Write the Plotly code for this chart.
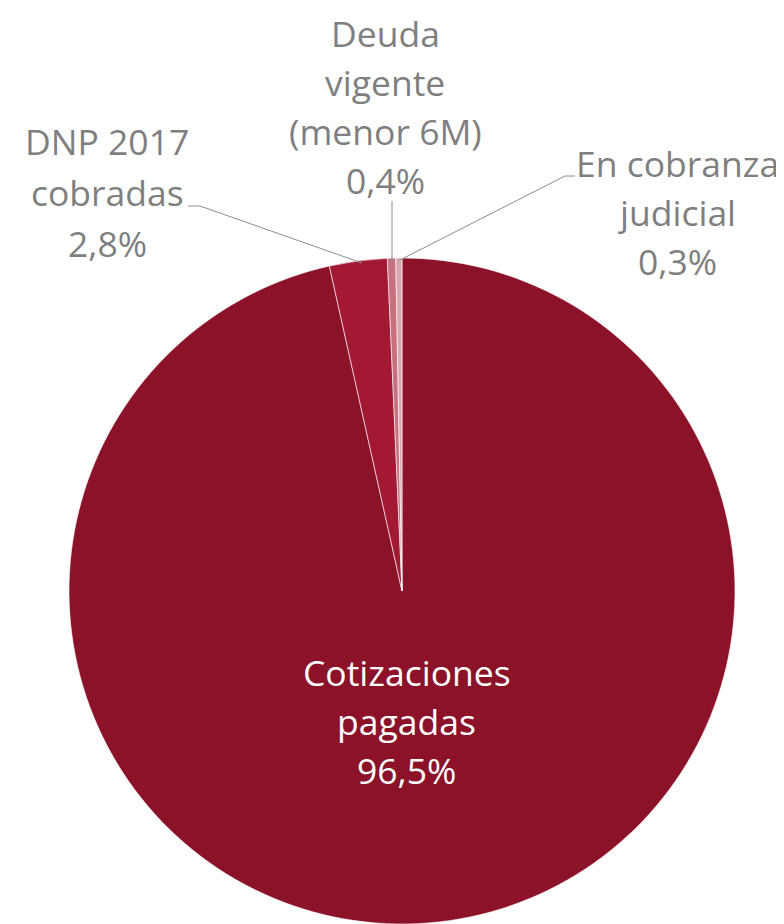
import plotly.graph_objects as go

categories = ["Cotizaciones pagadas", "DNP 2017 cobradas", "Deuda vigente (menor 6M)", "En cobranza judicial"]
values = [96.5, 2.8, 0.4, 0.3]
label_lines = [["Cotizaciones", "pagadas", "96,5%"],
               ["DNP 2017", "cobradas", "2,8%"],
               ["Deuda", "vigente", "(menor 6M)", "0,4%"],
               ["En cobranza", "judicial", "0,3%"]]
colors = ["#8B1229", "#A31835", "#C8707F", "#DCA8B0"]

# page has an 8px body margin, so the figure is drawn at an offset
OFF = 8
W, H = 784 - OFF, 924 - OFF

def px(x, y):
    return (x - OFF) / W, 1 - (y - OFF) / H

fig = go.Figure(go.Pie(
    labels=categories, values=values, sort=False, direction="clockwise", rotation=0,
    marker=dict(colors=colors, line=dict(color="white", width=0.6)),
    textinfo="none", hoverinfo="label+percent", showlegend=False,
    domain=dict(x=[(68 - OFF) / W, (736 - OFF) / W], y=[0, 1 - (258 - OFF) / H]),
))

font_family = "Open Sans, Noto Sans, sans-serif"
gray = "#7F7F7F"
# (center x, first line y, line spacing) in page pixels
label_pos = [(407, 674, 49), (107, 143, 51), (385, 35, 49), (677, 165, 49)]
label_colors = ["white", gray, gray, gray]
for lines, (x, y0, dy), c in zip(label_lines, label_pos, label_colors):
    for i, line in enumerate(lines):
        ax, ay = px(x, y0 + i * dy - 2)
        fig.add_annotation(x=ax, y=ay, xref="paper", yref="paper", text=line, showarrow=False,
                           xanchor="center", yanchor="middle", align="center",
                           font=dict(family=font_family, size=35.5, color=c))

leaders = [
    [(188, 206), (200, 206), (362, 263)],
    [(392, 201), (392, 261)],
    [(575, 176), (565, 176), (398, 261)],
]
for pts in leaders:
    path = "M " + " L ".join(f"{px(x, y)[0]:.5f},{px(x, y)[1]:.5f}" for x, y in pts)
    fig.add_shape(type="path", path=path, xref="paper", yref="paper",
                  line=dict(color="#8C8C8C", width=1))

fig.update_layout(width=W, height=H, margin=dict(l=0, r=0, t=0, b=0),
                  paper_bgcolor="white", plot_bgcolor="white")
fig.write_html("out.html")
